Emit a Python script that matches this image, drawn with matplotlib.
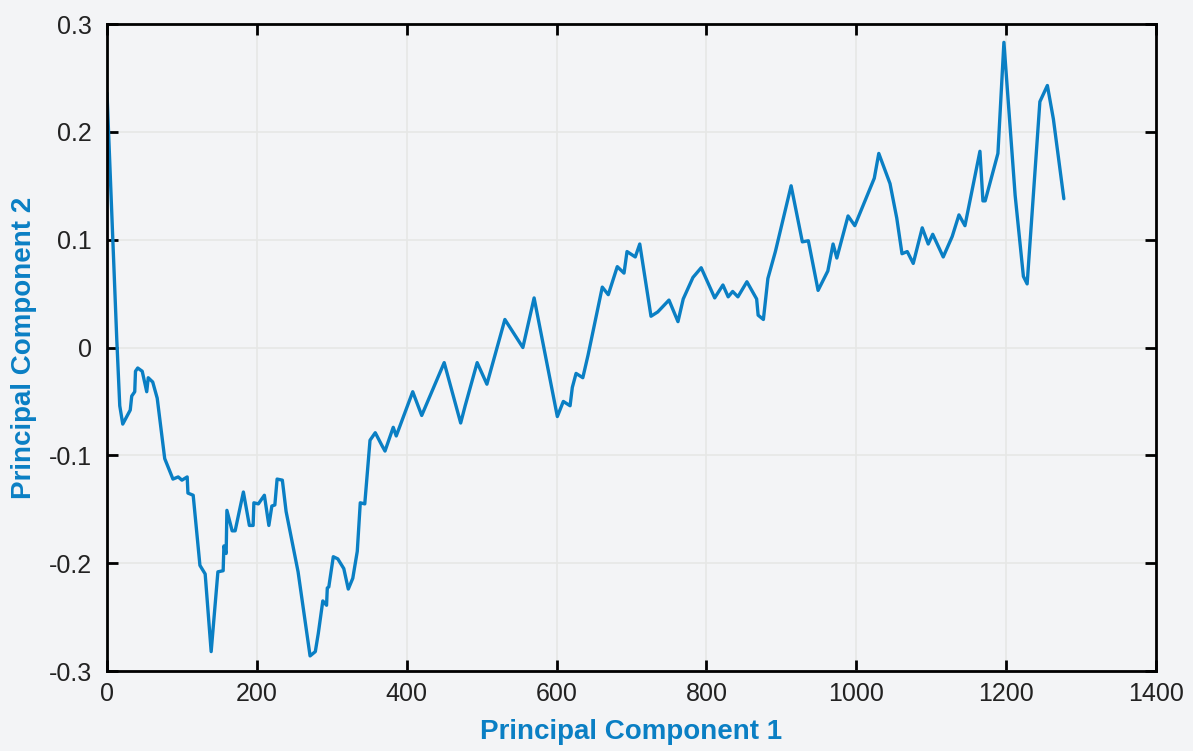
import matplotlib.pyplot as plt
from matplotlib.ticker import FuncFormatter

# valores (PC1, PC2)
pc1 = [0, 13, 17, 21, 31, 33, 37, 38, 41, 47, 53, 55, 61, 67, 77, 88, 95, 100, 107, 108,
       115, 124, 131, 139, 148, 155, 156, 159, 160, 167, 171, 182, 190, 195, 196, 202, 210,
       216, 220, 224, 227, 234, 239, 255, 271, 278, 282, 288, 293, 294, 296, 302, 308, 316,
       322, 328, 334, 338, 344, 351, 358, 367, 371, 382, 386, 408, 420, 450, 472, 478, 494,
       507, 531, 555, 570, 601, 609, 618, 621, 626, 635, 642, 661, 669, 681, 690, 694, 705,
       711, 726, 735, 750, 762, 769, 782, 793, 811, 822, 829, 835, 842, 854, 867, 869, 876,
       882, 892, 913, 928, 936, 949, 962, 969, 974, 989, 998, 1024, 1030, 1045, 1054, 1061,
       1068, 1076, 1088, 1096, 1102, 1116, 1128, 1137, 1145, 1165, 1169, 1172, 1189, 1197,
       1212, 1223, 1228, 1245, 1255, 1263, 1277]
pc2 = [0.236, 0.008, -0.054, -0.071, -0.058, -0.045, -0.041, -0.022, -0.019, -0.022, -0.041,
       -0.028, -0.032, -0.047, -0.103, -0.122, -0.120, -0.123, -0.120, -0.135, -0.137, -0.202,
       -0.210, -0.282, -0.208, -0.207, -0.184, -0.191, -0.151, -0.170, -0.170, -0.134, -0.165,
       -0.165, -0.144, -0.145, -0.137, -0.165, -0.147, -0.146, -0.122, -0.123, -0.152, -0.208,
       -0.286, -0.282, -0.265, -0.235, -0.239, -0.223, -0.222, -0.194, -0.196, -0.205, -0.224,
       -0.214, -0.189, -0.144, -0.145, -0.086, -0.079, -0.091, -0.096, -0.074, -0.082, -0.041,
       -0.063, -0.014, -0.070, -0.054, -0.014, -0.034, 0.026, 0.0, 0.046, -0.064, -0.050,
       -0.054, -0.037, -0.024, -0.028, -0.007, 0.056, 0.049, 0.075, 0.069, 0.089, 0.084, 0.096,
       0.029, 0.033, 0.044, 0.024, 0.045, 0.065, 0.074, 0.046, 0.058, 0.047, 0.052, 0.047,
       0.061, 0.045, 0.030, 0.026, 0.064, 0.089, 0.150, 0.098, 0.099, 0.053, 0.071, 0.096,
       0.083, 0.122, 0.113, 0.157, 0.180, 0.152, 0.120, 0.087, 0.089, 0.078, 0.111, 0.096,
       0.105, 0.084, 0.103, 0.123, 0.113, 0.182, 0.136, 0.136, 0.180, 0.283, 0.141, 0.066,
       0.059, 0.228, 0.243, 0.212, 0.138]

xticks = [0, 200, 400, 600, 800, 1000, 1200, 1400]
yticks = [-0.3, -0.2, -0.1, 0, 0.1, 0.2, 0.3]

fundo = '#f3f4f6'
azul = '#0a7fc4'

plt.rcParams['font.family'] = ['Liberation Sans', 'DejaVu Sans']

fig = plt.figure(figsize=(11.93, 7.51), dpi=100, facecolor=fundo)
ax = fig.add_axes([0.0897, 0.1065, 0.8793, 0.8615], facecolor=fundo)

ax.plot(pc1, pc2, color=azul, linewidth=2.4, solid_joinstyle='round', solid_capstyle='round')

ax.set_xlim(0, 1400)
ax.set_ylim(-0.3, 0.3)
ax.set_xticks(xticks)
ax.set_yticks(yticks)
ax.yaxis.set_major_formatter(FuncFormatter(lambda v, p: '0' if abs(v) < 1e-9 else f'{v:.1f}'))

ax.grid(True, color='#e6e7e6', linewidth=1.2)
ax.set_axisbelow(True)
for s in ax.spines.values():
    s.set_linewidth(2.0)
    s.set_color('black')
ax.tick_params(direction='in', length=8, width=2, top=True, right=True,
               labelsize=18, labelcolor='#222222', pad=11)
ax.tick_params(axis='x', pad=8)

ax.set_xlabel('Principal Component 1', fontsize=20, fontweight='bold', color=azul, labelpad=9)
ax.set_ylabel('Principal Component 2', fontsize=20, fontweight='bold', color=azul, labelpad=8)

fig.savefig('out.png', dpi=100, facecolor=fundo)
